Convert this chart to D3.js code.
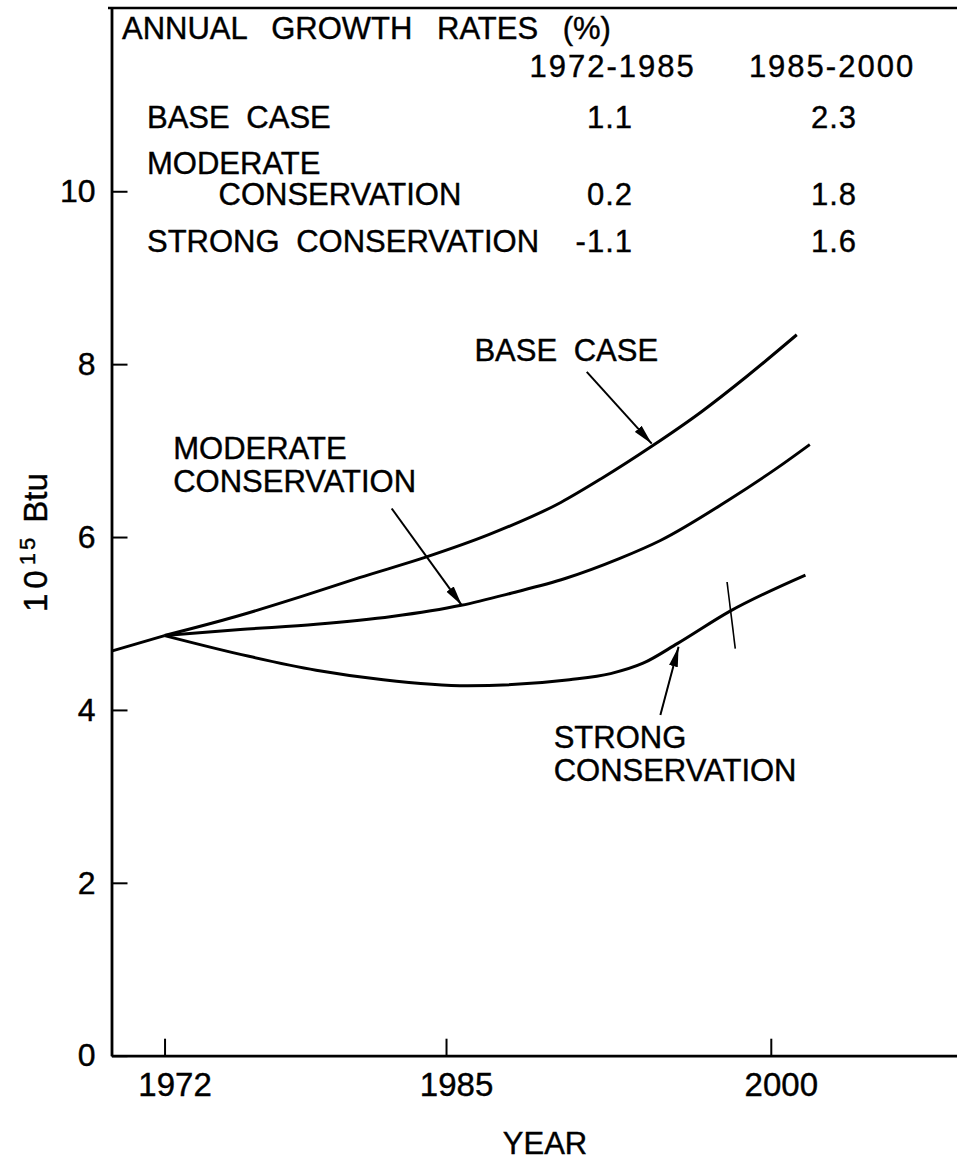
<!DOCTYPE html>
<html>
<head>
<meta charset="utf-8">
<script src="https://cdn.jsdelivr.net/npm/d3@7"></script>
<style>
  body { margin: 0; background: #fff; }
  svg { display: block; }
  text { font-family: "Liberation Sans", Arial, sans-serif; fill: #000; stroke: #000; stroke-width: 0.4px; }
</style>
</head>
<body>
<div id="chart"></div>
<script>
// data (year, 10^15 Btu)
const history = [[1969.55, 4.68], [1972, 4.86]];

const baseCase = [[1972, 4.86], [1975.3, 5.08], [1978.3, 5.31], [1981, 5.53], [1984.1, 5.77],
  [1987, 6.03], [1990.3, 6.40], [1992.2, 6.68], [1994.5, 7.05], [1996.8, 7.45], [1998.9, 7.86], [2001.2, 8.34]];

const moderate = [[1972, 4.86], [1975.5, 4.93], [1979, 4.99], [1982.5, 5.08], [1985.7, 5.21],
  [1988, 5.35], [1990.5, 5.52], [1993, 5.75], [1994.9, 5.96], [1998, 6.42], [2000.3, 6.80], [2001.8, 7.07]];

const strong = [[1972, 4.86], [1975.9, 4.62], [1979, 4.46], [1982.1, 4.35], [1986, 4.28],
  [1990.7, 4.35], [1992.6, 4.42], [1994.1, 4.54], [1995.7, 4.77], [1998.1, 5.14], [2001.6, 5.56]];

// small hand mark across the strong conservation curve
const strongMark = [[1997.98, 5.48], [1998.36, 4.71]];

const yTicks = [0, 2, 4, 6, 8, 10];
const xTicks = [1972, 1985, 2000];

// table of annual growth rates
const periods = ["1972-1985", "1985-2000"];
const scenarios = [["BASE CASE"], ["MODERATE", "CONSERVATION"], ["STRONG CONSERVATION"]];
const rates1972 = ["1.1", "0.2", "-1.1"];
const rates1985 = ["2.3", "1.8", "1.6"];

// curve labels and arrows (year, value)
const curveLabels = [
  { lines: ["BASE CASE"], at: [1986.31, 8.04] },
  { lines: ["MODERATE", "CONSERVATION"], at: [1972.4, 6.9] },
  { lines: ["STRONG", "CONSERVATION"], at: [1989.97, 3.56] }
];
const arrows = [
  { from: [1991.5, 7.91], to: [1994.5, 7.08] },
  { from: [1982.49, 6.33], to: [1985.73, 5.21] },
  { from: [1994.9, 3.94], to: [1995.74, 4.73] }
];

const width = 957;
const height = 1161;

const svg = d3.select("#chart").append("svg")
  .attr("width", width)
  .attr("height", height);

const x = d3.scaleLinear().domain([1969.55, 2008.6]).range([111.5, 957]);
const y = d3.scaleLinear().domain([0, 12.12]).range([1055.7, 8]);

// frame top
svg.append("line")
  .attr("x1", 108).attr("x2", width)
  .attr("y1", y(12.12)).attr("y2", y(12.12))
  .attr("stroke", "#000").attr("stroke-width", 2.5);

const yAxis = svg.append("g")
  .attr("transform", `translate(${x.range()[0]},0)`)
  .call(d3.axisLeft(y).tickValues(yTicks).tickFormat(d3.format("d"))
    .tickSizeInner(-16).tickSizeOuter(0).tickPadding(16));

const xAxis = svg.append("g")
  .attr("transform", `translate(0,${y(0)})`)
  .call(d3.axisBottom(x).tickValues(xTicks).tickFormat(d3.format("d"))
    .tickSizeInner(-17).tickSizeOuter(0).tickPadding(17));

[yAxis, xAxis].forEach(g => {
  g.select(".domain").attr("stroke", "#000").attr("stroke-width", 2.8);
  g.selectAll(".tick line").attr("stroke", "#000").attr("stroke-width", 2);
  g.selectAll("text").attr("font-family", null).style("fill", "#000");
});
yAxis.selectAll("text").style("font-size", "32px");
xAxis.selectAll("text").style("font-size", "33px").attr("dx", 10);

// axis titles
svg.append("text")
  .attr("x", 545).attr("y", 1154)
  .attr("text-anchor", "middle")
  .style("font-size", "31px")
  .text("YEAR");

const yTitle = svg.append("text")
  .attr("transform", "translate(47,612) rotate(-90)")
  .style("font-size", "33px");
yTitle.append("tspan").style("letter-spacing", "5px").text("10");
yTitle.append("tspan").attr("dy", -12).style("font-size", "22px").style("letter-spacing", "3px").text("15");
yTitle.append("tspan").attr("dy", 12).attr("dx", 12).text("Btu");

// curves
const line = d3.line()
  .x(d => x(d[0]))
  .y(d => y(d[1]))
  .curve(d3.curveMonotoneX);

[history, baseCase, moderate, strong].forEach(s => {
  svg.append("path")
    .datum(s)
    .attr("d", line)
    .attr("fill", "none")
    .attr("stroke", "#000")
    .attr("stroke-width", 3)
    .attr("stroke-linejoin", "round");
});

svg.append("path")
  .datum(strongMark)
  .attr("d", d3.line().x(d => x(d[0])).y(d => y(d[1])))
  .attr("stroke", "#000")
  .attr("stroke-width", 1.6);

// arrows
svg.append("defs").append("marker")
  .attr("id", "head")
  .attr("viewBox", "0 -5 20 10")
  .attr("refX", 20).attr("refY", 0)
  .attr("markerWidth", 20).attr("markerHeight", 10)
  .attr("markerUnits", "userSpaceOnUse")
  .attr("orient", "auto")
  .append("path")
  .attr("d", "M0,-4.5L20,0L0,4.5Z")
  .attr("fill", "#000");

svg.selectAll(".arrow")
  .data(arrows)
  .enter()
  .append("line")
  .attr("class", "arrow")
  .attr("x1", d => x(d.from[0])).attr("y1", d => y(d.from[1]))
  .attr("x2", d => x(d.to[0])).attr("y2", d => y(d.to[1]))
  .attr("stroke", "#000")
  .attr("stroke-width", 2)
  .attr("marker-end", "url(#head)");

// curve labels
curveLabels.forEach(l => {
  const t = svg.append("text")
    .attr("x", x(l.at[0]))
    .attr("y", y(l.at[1]))
    .style("font-size", "31px")
    .style("word-spacing", "8px");
  l.lines.forEach((s, i) => {
    t.append("tspan")
      .attr("x", x(l.at[0]))
      .attr("dy", i === 0 ? 0 : 33)
      .text(s);
  });
});

// growth-rate table
const table = svg.append("g").style("font-size", "31px");

table.append("text")
  .attr("x", 122).attr("y", 39)
  .style("word-spacing", "16px")
  .text("ANNUAL GROWTH RATES (%)");

const colCenters = [612.6, 832];
periods.forEach((p, i) => {
  table.append("text")
    .attr("x", colCenters[i]).attr("y", 77)
    .attr("text-anchor", "middle")
    .style("letter-spacing", "2px")
    .text(p);
});

const rowBaselines = [128.3, 205, 252];
scenarios.forEach((lines, i) => {
  lines.forEach((s, j) => {
    table.append("text")
      .attr("x", j === 0 ? 147 : 218.5)
      .attr("y", rowBaselines[i] - (lines.length - 1 - j) * 31)
      .style("word-spacing", "8px")
      .text(s);
  });
  table.append("text")
    .attr("x", 633).attr("y", rowBaselines[i])
    .attr("text-anchor", "end")
    .style("letter-spacing", "1px")
    .text(rates1972[i]);
  table.append("text")
    .attr("x", 857).attr("y", rowBaselines[i])
    .attr("text-anchor", "end")
    .style("letter-spacing", "1px")
    .text(rates1985[i]);
});
</script>
</body>
</html>
